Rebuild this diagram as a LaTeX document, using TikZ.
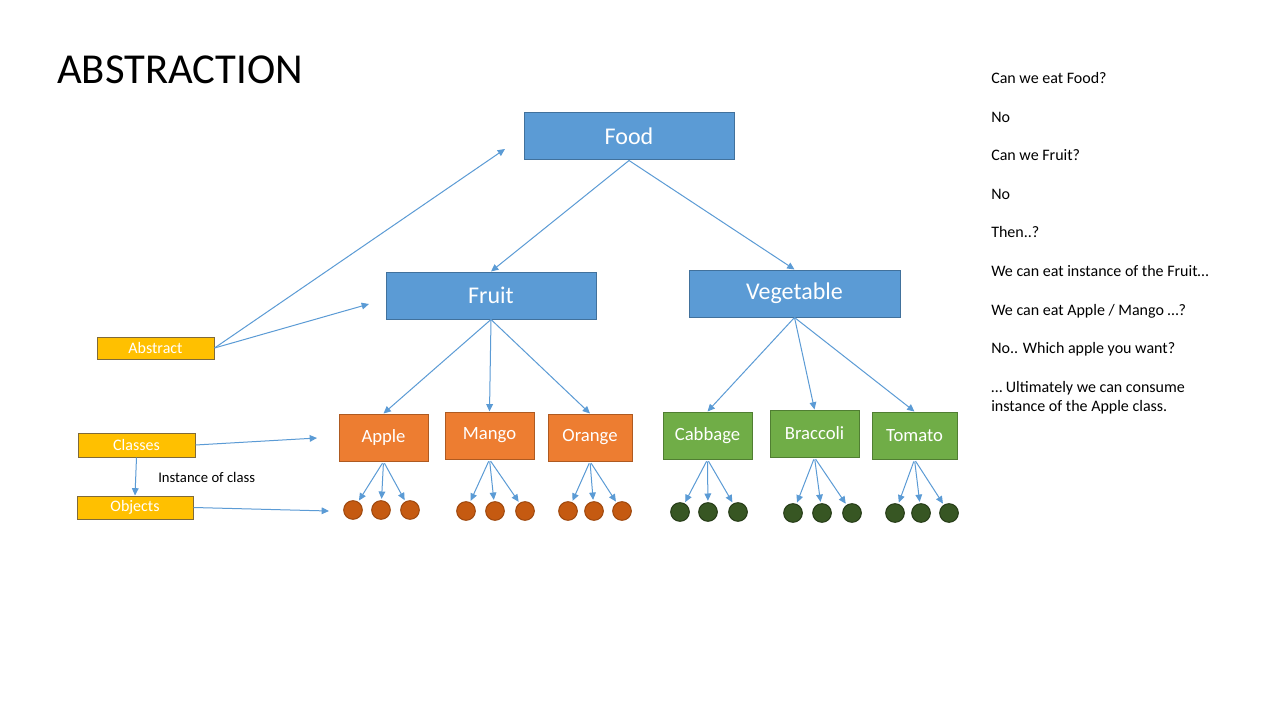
\documentclass[tikz,border=0pt]{standalone}
\usepackage{fontspec}
\setmainfont{Carlito}
\usetikzlibrary{arrows.meta}
\definecolor{bfill}{HTML}{5B9BD5}
\definecolor{bdraw}{HTML}{41719C}
\definecolor{ofill}{HTML}{ED7D31}
\definecolor{odraw}{HTML}{AE5A21}
\definecolor{gfill}{HTML}{70AD47}
\definecolor{gdraw}{HTML}{507E32}
\definecolor{yfill}{HTML}{FFC000}
\definecolor{ydraw}{HTML}{7F6A3A}
\definecolor{ocirc}{HTML}{C55A11}
\definecolor{ocircd}{HTML}{9E480E}
\definecolor{gcirc}{HTML}{375623}
\definecolor{gcircd}{HTML}{263C18}
\definecolor{arr}{HTML}{5B9BD5}
\tikzset{
  box/.style={draw, line width=0.75pt, inner sep=0pt, text=white, align=center},
  bluebox/.style={box, fill=bfill, draw=bdraw, minimum height=35.25pt, font=\fontsize{18}{21}\selectfont},
  orangebox/.style={box, fill=ofill, draw=odraw, minimum height=35.25pt, font=\fontsize{14}{17}\selectfont},
  greenbox/.style={box, fill=gfill, draw=gdraw, minimum height=35.25pt, font=\fontsize{14}{17}\selectfont},
  tagbox/.style={box, fill=yfill, draw=ydraw, font=\fontsize{12}{14}\selectfont},
  ocircle/.style={circle, fill=ocirc, draw=ocircd, line width=0.75pt, minimum size=14pt, inner sep=0pt},
  gcircle/.style={circle, fill=gcirc, draw=gcircd, line width=0.75pt, minimum size=14pt, inner sep=0pt},
  conn/.style={draw=arr, line width=0.75pt, -{Triangle[length=5.5pt,width=5pt]}},
  note/.style={anchor=base west, inner sep=0pt, font=\fontsize{12}{14.4}\selectfont},
}
\begin{document}
\begin{tikzpicture}[x=0.75pt, y=-0.75pt]
\useasboundingbox (0,0) rectangle (1280,720);
\fill[white] (0,0) rectangle (1280,720);

\node[anchor=base west, inner sep=0pt, font=\fontsize{32}{38}\selectfont] (title) at (57,84) {ABSTRACTION};

% main hierarchy
\node[bluebox, minimum width=157.5pt] (food) at (629,136.5) {Food};
\node[bluebox, minimum width=157.5pt] (fruit) at (491,295.5) {Fruit};
\node[bluebox, minimum width=158.25pt] (veg) at (794.5,293.5) {Vegetable};

\node[orangebox, minimum width=66.75pt] (apple) at (383.5,437.5) {Apple};
\node[orangebox, minimum width=66.75pt] (mango) at (489.5,435.5) {Mango};
\node[orangebox, minimum width=63pt] (orange) at (590,437.5) {Orange};
\node[greenbox, minimum width=66.75pt] (cabbage) at (707.5,435.5) {Cabbage};
\node[greenbox, minimum width=66.75pt] (braccoli) at (814.5,433.5) {Braccoli};
\node[greenbox, minimum width=63.75pt] (tomato) at (914.5,435.5) {Tomato};

% tags
\node[tagbox, minimum width=87.75pt, minimum height=16.5pt] (abstract) at (155.5,348) {Abstract};
\node[tagbox, minimum width=87.75pt, minimum height=18pt] (classes) at (136.5,445) {Classes};
\node[tagbox, minimum width=87pt, minimum height=17.25pt] (objects) at (135,507.5) {Objects};
\node[anchor=west, inner sep=0pt, font=\fontsize{11}{13}\selectfont] (inst) at (158,477) {Instance of class};

\coordinate (abs1) at (505,149);
\coordinate (abs2) at (369,304);
\coordinate (cls1) at (317,438);
\coordinate (obj1) at (329,511);

% objects (circles)
\node[ocircle] (a1) at (353,510) {};
\node[ocircle] (a2) at (381,510) {};
\node[ocircle] (a3) at (410,510) {};
\node[ocircle] (m1) at (466,511) {};
\node[ocircle] (m2) at (495,511) {};
\node[ocircle] (m3) at (525,511) {};
\node[ocircle] (o1) at (568,511) {};
\node[ocircle] (o2) at (594,511) {};
\node[ocircle] (o3) at (622,511) {};
\node[gcircle] (c1) at (680,512) {};
\node[gcircle] (c2) at (708,512) {};
\node[gcircle] (c3) at (738,512) {};
\node[gcircle] (b1) at (793,513) {};
\node[gcircle] (b2) at (822,513) {};
\node[gcircle] (b3) at (852,513) {};
\node[gcircle] (t1) at (895,513) {};
\node[gcircle] (t2) at (921,513) {};
\node[gcircle] (t3) at (949,513) {};

% connectors
\draw[conn] (food.south) -- (fruit.north);
\draw[conn] (food.south) -- (veg.north);
\draw[conn] (fruit.south) -- (apple.north);
\draw[conn] (fruit.south) -- (mango.north);
\draw[conn] (fruit.south) -- (orange.north);
\draw[conn] (veg.south) -- (cabbage.north);
\draw[conn] (veg.south) -- (braccoli.north);
\draw[conn] (veg.south) -- (tomato.north);

\foreach \p/\q in {apple/a1,apple/a2,apple/a3,mango/m1,mango/m2,mango/m3,orange/o1,orange/o2,orange/o3,cabbage/c1,cabbage/c2,cabbage/c3,braccoli/b1,braccoli/b2,braccoli/b3,tomato/t1,tomato/t2,tomato/t3}
  \draw[conn, shorten <=1.5pt, shorten >=1pt] (\p.south) -- (\q);

\draw[conn] (abstract.east) -- (abs1);
\draw[conn] (abstract.east) -- (abs2);
\draw[conn] (classes.east) -- (cls1);
\draw[conn] (objects.east) -- (obj1);
\draw[conn] (classes.south) -- (objects.north);

% notes
\node[note] (n1) at (991,84) {Can we eat Food?};
\node[note] (n2) at (991,122.5) {No};
\node[note] (n3) at (991,161) {Can we Fruit?};
\node[note] (n4) at (991,199.5) {No};
\node[note] (n5) at (991,238) {Then..?};
\node[note] (n6) at (991,276.5) {We can eat instance of the Fruit…};
\node[note] (n7) at (991,315) {We can eat Apple / Mango …?};
\node[note] (n8) at (991,353.5) {No.. Which apple you want?};
\node[note] (n9) at (991,392) {… Ultimately we can consume};
\node[note] (n10) at (991,411) {instance of the Apple class.};
\end{tikzpicture}
\end{document}
